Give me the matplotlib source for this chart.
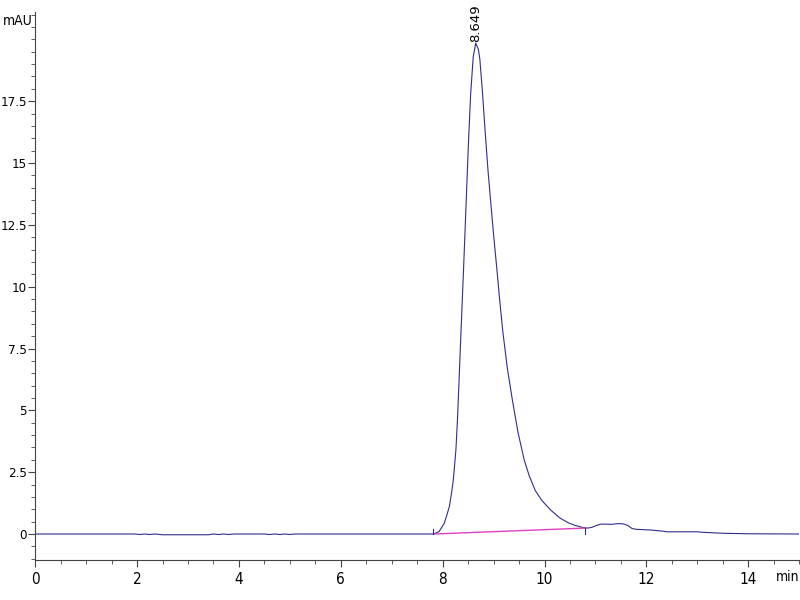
import matplotlib.pyplot as plt
from matplotlib.ticker import MultipleLocator

# chromatogram trace (min, mAU)
time_min = [0.0, 1.95, 2.05, 2.15, 2.25, 2.35, 2.5, 3.0, 3.4, 3.5, 3.6, 3.7, 3.8,
            3.9, 4.5, 4.6, 4.7, 4.8, 4.9, 5.0, 5.1, 5.7, 6.0, 7.8,
            7.82, 7.93, 8.03, 8.08, 8.13, 8.17, 8.21, 8.26, 8.29, 8.32, 8.36, 8.41,
            8.44, 8.48, 8.51, 8.55, 8.60, 8.649, 8.70, 8.73, 8.78, 8.83, 8.89, 8.94,
            9.00, 9.06, 9.12, 9.18, 9.27, 9.37, 9.48, 9.60, 9.70, 9.82, 9.95,
            10.12, 10.30, 10.47, 10.60, 10.76, 10.85, 10.93, 11.0, 11.1, 11.2, 11.3,
            11.45, 11.55, 11.63, 11.72, 11.8, 12.0, 12.1, 12.3, 12.4, 13.0, 13.1,
            13.5, 14.0, 15.0]
signal_mau = [0.0, 0.0, -0.02, 0.0, -0.02, 0.0, -0.03, -0.03, -0.03, 0.0, -0.02, 0.0, -0.02,
              0.0, 0.0, -0.02, 0.0, -0.02, 0.0, -0.02, 0.0, 0.0, 0.0, 0.0,
              0.0, 0.1, 0.43, 0.75, 1.1, 1.6, 2.2, 3.4, 4.6, 6.1, 8.2, 10.7,
              12.3, 14.4, 16.0, 17.8, 19.3, 19.85, 19.6, 19.2, 17.9, 16.4, 14.7, 13.5,
              12.1, 10.8, 9.45, 8.2, 6.7, 5.4, 4.1, 3.0, 2.35, 1.75, 1.35,
              0.97, 0.65, 0.45, 0.35, 0.26, 0.24, 0.27, 0.33, 0.40, 0.40, 0.39,
              0.42, 0.41, 0.35, 0.22, 0.19, 0.17, 0.16, 0.12, 0.09, 0.09, 0.07,
              0.03, 0.01, 0.0]

# integration baseline of the main peak
base_t = [7.82, 10.8]
base_y = [0.0, 0.24]

peak_rt = 8.649
peak_h = 19.85
peak_label = "8.649"

narrow = dict(family="DejaVu Sans", stretch="condensed")

fig = plt.figure(figsize=(8, 6), dpi=100)
ax = fig.add_axes([0.044, 0.0667, 0.955, 0.913])

ax.plot(time_min, signal_mau, color="#2e2e8c", lw=0.8)
ax.plot(base_t, base_y, color="#e040c0", lw=1.0)
# start / end markers of the integrated peak
ax.plot([base_t[0], base_t[0]], [base_y[0], base_y[0] + 0.2], color="#2e2e8c", lw=0.8)
ax.plot([base_t[1], base_t[1]], [base_y[1] - 0.25, base_y[1]], color="#2e2e8c", lw=0.8)

ax.annotate(peak_label, xy=(peak_rt, peak_h), xytext=(0, 1), textcoords="offset points",
            rotation=90, ha="center", va="bottom", fontsize=9.5, family="DejaVu Sans")

ax.set_xlim(0, 15)
ax.set_ylim(-1.05, 21.1)
ax.xaxis.set_major_locator(MultipleLocator(2))
ax.xaxis.set_minor_locator(MultipleLocator(0.5))
ax.yaxis.set_minor_locator(MultipleLocator(0.5))
ax.set_yticks([0, 2.5, 5, 7.5, 10, 12.5, 15, 17.5])
ax.set_yticklabels(["0", "2.5", "5", "7.5", "10", "12.5", "15", "17.5"])

for side in ("top", "right"):
    ax.spines[side].set_visible(False)
ax.spines["left"].set_color("#444444")
ax.spines["bottom"].set_color("#444444")
ax.tick_params(which="major", length=5, width=0.8, color="#444444")
ax.tick_params(which="minor", length=3, width=0.6, color="#444444")
ax.tick_params(axis="y", pad=1, labelsize=9.5)
ax.tick_params(axis="x", pad=4, labelsize=11)
for lab in ax.get_xticklabels() + ax.get_yticklabels():
    lab.set_family(narrow["family"])
    lab.set_stretch(narrow["stretch"])

fig.text(0.003, 0.965, "mAU", fontsize=10, va="center", **narrow)
fig.text(0.970, 0.038, "min", fontsize=10, va="center", **narrow)

fig.savefig("out.png", dpi=100)
